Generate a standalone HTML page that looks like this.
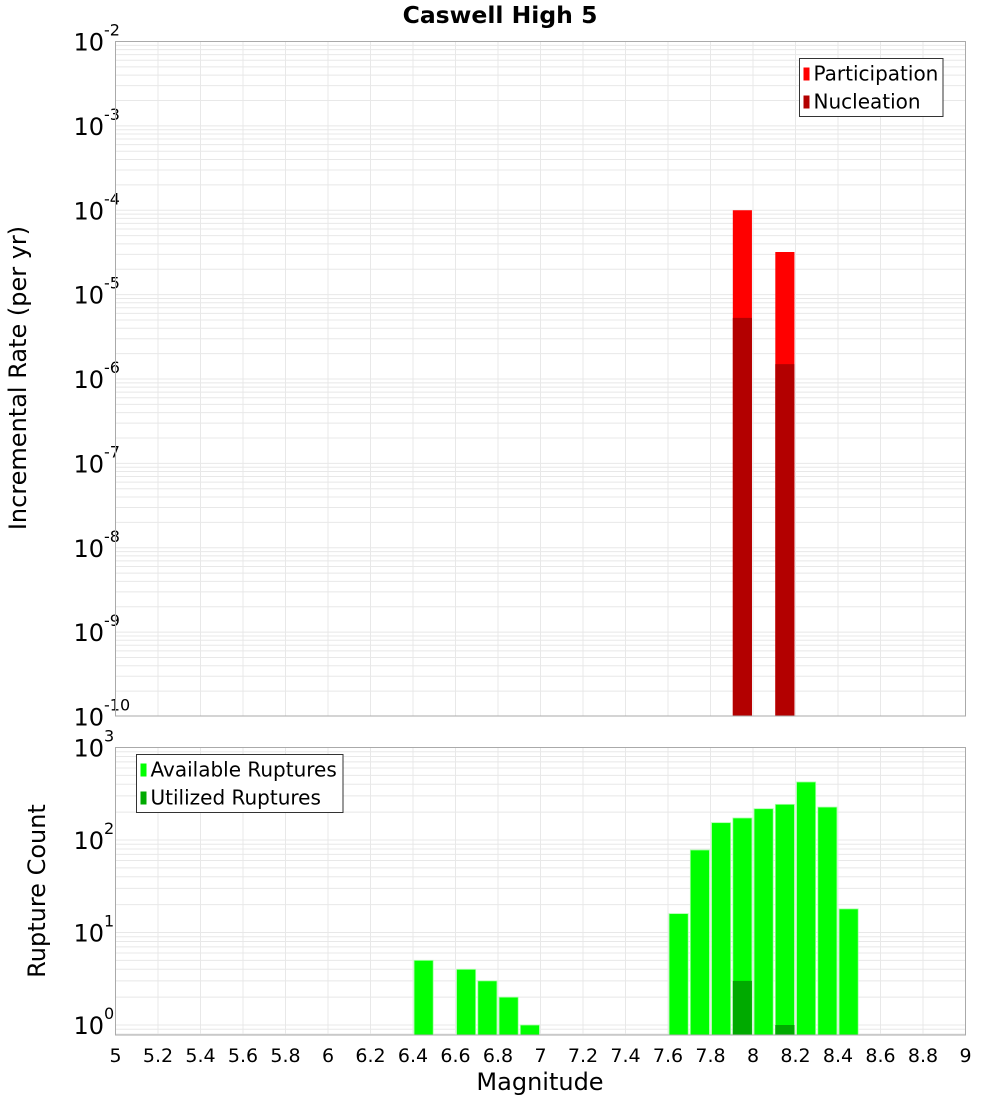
<!DOCTYPE html>
<html><head><meta charset="utf-8">
<style>
html,body{margin:0;padding:0;background:#fff;}
svg{display:block;font-family:"DejaVu Sans","Liberation Sans",sans-serif;}
</style></head>
<body>
<svg id="chart" width="1000" height="1100" viewBox="0 0 1000 1100" xmlns="http://www.w3.org/2000/svg">
<text x="500" y="23" text-anchor="middle" font-size="23.5" font-weight="bold">Caswell High 5</text>
<g id="top"></g>
<g id="bot"></g>
<text transform="translate(26,378) rotate(-90)" text-anchor="middle" font-size="24">Incremental Rate (per yr)</text>
<text transform="translate(45,891) rotate(-90)" text-anchor="middle" font-size="24">Rupture Count</text>
<text x="540" y="1090" text-anchor="middle" font-size="24">Magnitude</text>
</svg>
<script>
const xTicks = [5,5.2,5.4,5.6,5.8,6,6.2,6.4,6.6,6.8,7,7.2,7.4,7.6,7.8,8,8.2,8.4,8.6,8.8,9];
const rateMags = [7.95, 8.15];
const participation = [1.0e-4, 3.2e-5];
const nucleation = [5.3e-6, 1.5e-6];
const countMags = [6.45,6.65,6.75,6.85,6.95,7.65,7.75,7.85,7.95,8.05,8.15,8.25,8.35,8.45];
const available = [5,4,3,2,1,16,78,154,173,218,243,424,227,18];
const utilMags = [7.95, 8.15];
const utilized = [3, 1];
const topExps = [-2,-3,-4,-5,-6,-7,-8,-9,-10];
const botExps = [3,2,1,0];

const NS="http://www.w3.org/2000/svg";
const L=115.5,R=965.5;
const x=m=>L+(m-5)/4*(R-L);
const yTop=v=>41.5+(-2-Math.log10(v))*84.375;
const yBot=v=>747.5+(3-Math.log10(v))*92.5;
function mk(p,t,a){const e=document.createElementNS(NS,t);for(const k in a)e.setAttribute(k,a[k]);p.appendChild(e);return e;}

function panel(g,top,bottom,yf,loExp,hiExp,exps,name){
  const grid=mk(g,'g',{});
  
  
  for(let e=loExp;e<hiExp;e++)for(let k=1;k<10;k++){
    const yy=yf(k*Math.pow(10,e)); if(yy<top-0.1||yy>bottom+0.1)continue;
    mk(grid,'line',{x1:L,x2:R,y1:yy,y2:yy,stroke:'#e8e8e8','stroke-width':1});
  }
  xTicks.forEach(t=>{mk(grid,'line',{x1:x(t),x2:x(t),y1:top,y2:bottom,stroke:'#e8e8e8','stroke-width':1});});
  exps.forEach(e=>{
    const yy=yf(Math.pow(10,e));
    const t=mk(g,'text',{x:104,y:yy+9,'text-anchor':'end','font-size':24});
    
    
    t.textContent='10';
    const s=mk(g,'text',{x:104,y:yy-6,'text-anchor':'start','font-size':16});
    
    
    s.textContent=String(e);
  });
}
const tg=document.getElementById('top'), bg=document.getElementById('bot');
panel(tg,41.5,716,yTop,-10,-2,topExps,'top');
panel(bg,747.5,1035,yBot,-1,3,botExps,'bottom');

const bw=0.09;
rateMags.forEach((m,i)=>{
  const r=mk(tg,'rect',{x:x(m-bw/2),y:yTop(participation[i]),width:x(m+bw/2)-x(m-bw/2),height:716-yTop(participation[i]),fill:'#ff0000'});
  
  
  const n=mk(tg,'rect',{x:x(m-bw/2),y:yTop(nucleation[i]),width:x(m+bw/2)-x(m-bw/2),height:716-yTop(nucleation[i]),fill:'#b30000'});
  
  
});
countMags.forEach((m,i)=>{
  const r=mk(bg,'rect',{x:x(m-bw/2),y:yBot(available[i]),width:x(m+bw/2)-x(m-bw/2),height:1035-yBot(available[i]),fill:'#00ff00',stroke:'#a8ffa8','stroke-width':0.8});
  
  
});
utilMags.forEach((m,i)=>{
  const r=mk(bg,'rect',{x:x(m-bw/2),y:yBot(utilized[i]),width:x(m+bw/2)-x(m-bw/2),height:1035-yBot(utilized[i]),fill:'#00aa00'});
  
  
});
const f1=mk(tg,'rect',{x:L,y:41.5,width:R-L,height:716-41.5,fill:'none',stroke:'#aaa','stroke-width':1});


const f2=mk(bg,'rect',{x:L,y:747.5,width:R-L,height:1035-747.5,fill:'none',stroke:'#aaa','stroke-width':1});


xTicks.forEach(t=>{
  const tx=mk(bg,'text',{x:x(t),y:1062,'text-anchor':'middle','font-size':19});
  
  
  tx.textContent=String(t);
});
function legend(g,lx,ly,w,items,name){
  const lg=mk(g,'g',{});
  
  
  mk(lg,'rect',{x:lx,y:ly,width:w,height:58,fill:'#fff',stroke:'#333','stroke-width':1});
  items.forEach((it,i)=>{
    mk(lg,'rect',{x:lx+4,y:ly+9+i*28,width:6,height:13,fill:it[1]});
    const t=mk(lg,'text',{x:lx+14,y:ly+22+i*28,'font-size':20});
    
    
    t.textContent=it[0];
  });
}
legend(tg,799.5,58.5,143.5,[['Participation','#ff0000'],['Nucleation','#b30000']],'top-legend');
legend(bg,136.5,754.5,206.5,[['Available Ruptures','#00ff00'],['Utilized Ruptures','#00aa00']],'bottom-legend');
</script>
</body></html>
